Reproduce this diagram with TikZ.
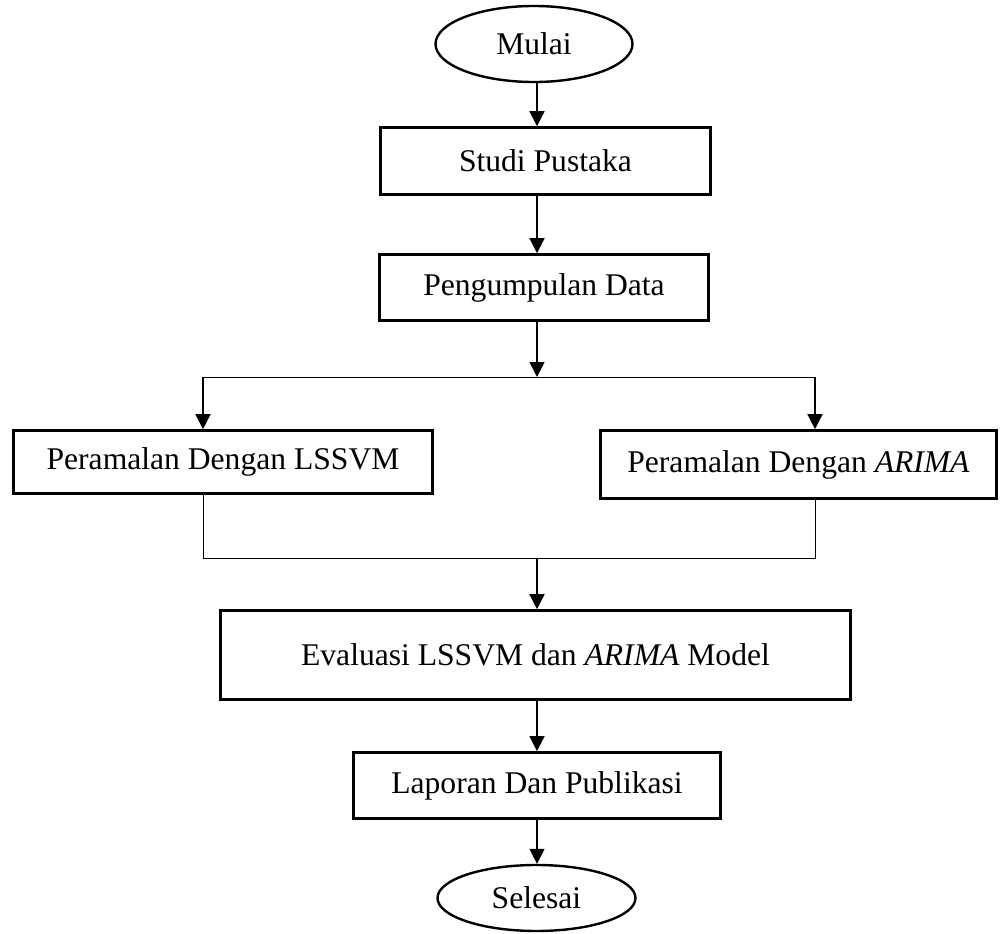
\documentclass[tikz,border=0pt]{standalone}
\usepackage{fontspec}
\setmainfont{Liberation Serif}
\usetikzlibrary{arrows.meta,shapes.geometric}
\begin{document}
\begin{tikzpicture}[x=1pt,y={(0pt,-1pt)},
  every node/.style={font=\fontsize{31.6}{38}\selectfont, inner sep=0pt},
  procbox/.style={draw, line width=2.6pt, rectangle},
  termnode/.style={draw, line width=2.4pt, ellipse},
  conn/.style={line width=1.4pt},
  arr/.style={conn, -{Triangle[length=15pt,width=15pt]}}]
\useasboundingbox (0,0) rectangle (1005,934);
\coordinate (trunk) at (537,0);
\node[termnode, minimum width=197pt, minimum height=76pt] (mulai) at (534,44) {Mulai};
\node[procbox, minimum width=330pt, minimum height=67pt] (studi) at (545.5,161) {Studi Pustaka};
\node[procbox, minimum width=329pt, minimum height=66pt] (peng) at (544,287.5) {Pengumpulan Data};
\node[procbox, minimum width=419pt, minimum height=63pt] (lssvm) at (223,462) {Peramalan Dengan LSSVM};
\node[procbox, minimum width=396pt, minimum height=68pt] (arima) at (798.5,464.5) {Peramalan Dengan \textit{ARIMA}};
\node[procbox, minimum width=630pt, minimum height=89pt] (eval) at (535.5,655) {Evaluasi LSSVM dan \textit{ARIMA} Model};
\node[procbox, minimum width=367pt, minimum height=66pt] (lap) at (537,785.5) {Laporan Dan Publikasi};
\node[termnode, minimum width=198pt, minimum height=66pt] (selesai) at (536.5,898) {Selesai};
\coordinate (split) at (537,377);
\coordinate (splitL) at (203,377);
\coordinate (splitR) at (815,377);
\coordinate (mergeL) at (203,558);
\coordinate (mergeR) at (815,558);
\coordinate (merge) at (537,558);
\draw[arr] (mulai.south -| trunk) -- (studi.north -| trunk);
\draw[arr] (studi.south -| trunk) -- (peng.north -| trunk);
\draw[arr] (peng.south -| trunk) -- (split);
\draw[conn, line width=1pt] (splitL) -- (splitR);
\draw[arr] (splitL) -- (lssvm.north -| splitL);
\draw[arr] (splitR) -- (arima.north -| splitR);
\draw[conn, line width=1pt] (lssvm.south -| splitL) -- (mergeL) -- (mergeR) -- (arima.south -| splitR);
\draw[arr] (merge) -- (eval.north -| trunk);
\draw[arr] (eval.south -| trunk) -- (lap.north -| trunk);
\draw[arr] (lap.south -| trunk) -- (selesai.north -| trunk);
\end{tikzpicture}
\end{document}
